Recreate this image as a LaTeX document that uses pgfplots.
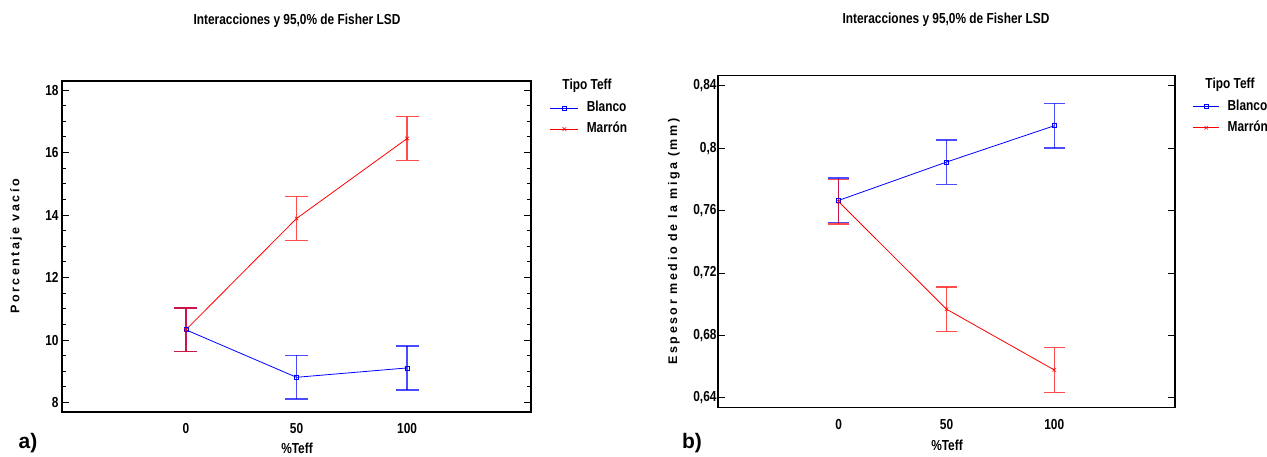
\documentclass[border=0pt]{standalone}
\usepackage{pgfplots}
\pgfplotsset{compat=1.18}
\usepackage{fontspec}
\setmainfont{Liberation Sans}
\newfontfamily\cond{Liberation Sans}[FakeStretch=0.82]
\newfontfamily\spaced{Liberation Sans}[LetterSpace=20]
\newcommand\cf{\cond\bfseries\fontsize{14.5bp}{17bp}\selectfont}
\newcommand\lf{\spaced\bfseries\fontsize{12.5bp}{14bp}\selectfont}
\definecolor{myblue}{RGB}{0,0,255}
\definecolor{myred}{RGB}{255,0,0}

\pgfplotstableread{
x y e
0 10.33 0.70
50 8.81 0.70
100 9.11 0.70
}\leftB
\pgfplotstableread{
x y e
0 10.33 0.70
50 13.89 0.70
100 16.45 0.70
}\leftM
\pgfplotstableread{
x y e
0 0.7666 0.0143
50 0.7912 0.0143
100 0.8145 0.0143
}\rightB
\pgfplotstableread{
x y e
0 0.7657 0.0143
50 0.6968 0.0143
100 0.6578 0.0143
}\rightM

\pgfplotsset{
  mystyle/.style={
    scale only axis,
    axis line style={line width=1.5bp, black},
    tick align=inside,
    xtick={0,50,100},
    xmin=-56, xmax=156,
    x tick style={draw=none},
    ytick pos=both,
    major tick length=7bp,
    minor tick length=4bp,
    y tick style={line width=1bp, black},
    tick label style={font=\cf},
    /pgf/number format/assume math mode=true,
    xticklabel style={yshift=-8bp},
    legend style={draw=none, fill=none, inner sep=0pt, outer sep=0pt,
      row sep=6bp, column sep=7bp, font=\cf, legend cell align=left,
      nodes={inner sep=1bp, text height=10bp, text depth=3bp}},
    legend image code/.code={\draw[mark repeat=2,mark phase=2,#1] plot coordinates {(0bp,0bp) (14bp,0bp) (28bp,0bp)};},
  },
  blanco/.style={color=myblue, line width=0.8bp, mark=square, mark size=2bp, mark options={solid, line width=0.6bp, myblue}},
  marron/.style={color=myred, line width=0.8bp, mark=x, mark size=2.5bp, mark options={solid, line width=0.6bp, myred}},
}

\begin{document}
\begin{tikzpicture}
\useasboundingbox (0bp,0bp) rectangle (1267bp,457bp);

% ---------- left ----------
\begin{axis}[mystyle,
  at={(62bp,45bp)}, anchor=south west,
  width=469bp, height=331bp,
  ymin=7.70, ymax=18.29,
  ytick={8,10,12,14,16,18},
  minor y tick num=3,
  legend style={at={(axis description cs:1.0405,0.941)}, anchor=north west},
]
\addplot[blanco, error bars/.cd, y dir=both, y explicit, error mark=|,
  error bar style={line width=1.4bp, myblue, opacity=0.7},
  error mark options={mark size=11.5bp, line width=1.5bp, myblue, opacity=0.7}]
  table[x=x, y=y, y error=e] {\leftB};
\addlegendentry{Blanco}
\addplot[marron, error bars/.cd, y dir=both, y explicit, error mark=|,
  error bar style={line width=1.4bp, myred, opacity=0.7},
  error mark options={mark size=11.5bp, line width=1.5bp, myred, opacity=0.7}]
  table[x=x, y=y, y error=e] {\leftM};
\addlegendentry{Marrón}
\end{axis}

% ---------- right ----------
\begin{axis}[mystyle,
  at={(718bp,49.3bp)}, anchor=south west,
  width=457bp, height=332bp,
  ymin=0.6336, ymax=0.8466,
  ytick={0.64,0.68,0.72,0.76,0.8,0.84},
  yticklabels={{0,64},{0,68},{0,72},{0,76},{0,8},{0,84}},
  yticklabel style={xshift=2bp},
  legend style={at={(axis description cs:1.039,0.929)}, anchor=north west},
  legend image code/.code={\draw[mark repeat=2,mark phase=2,#1] plot coordinates {(0bp,0bp) (13bp,0bp) (26bp,0bp)};},
]
\addplot[blanco, error bars/.cd, y dir=both, y explicit, error mark=|,
  error bar style={line width=1.4bp, myblue, opacity=0.7},
  error mark options={mark size=10.5bp, line width=1.5bp, myblue, opacity=0.7}]
  table[x=x, y=y, y error=e] {\rightB};
\addlegendentry{Blanco}
\addplot[marron, error bars/.cd, y dir=both, y explicit, error mark=|,
  error bar style={line width=1.4bp, myred, opacity=0.7},
  error mark options={mark size=10.5bp, line width=1.5bp, myred, opacity=0.7}]
  table[x=x, y=y, y error=e] {\rightM};
\addlegendentry{Marrón}
\end{axis}

% ---------- texts ----------
\node[font=\cf] at (297bp,436bp) {Interacciones y 95,0\% de Fisher LSD};
\node[font=\cf] at (946bp,437bp) {Interacciones y 95,0\% de Fisher LSD};
\node[font=\cf] at (587bp,371bp) {Tipo Teff};
\node[font=\cf] at (1230bp,372bp) {Tipo Teff};
\node[font=\cf] at (297bp,9bp) {\%Teff};
\node[font=\cf] at (947bp,12bp) {\%Teff};
\node[rotate=90, font=\lf] at (16bp,210.5bp) {Porcentaje vacío};
\node[rotate=90, font=\lf] at (674bp,215.5bp) {Espesor medio de la miga (mm)};
\node[font=\bfseries\fontsize{21bp}{24bp}\selectfont] at (28bp,14bp) {a)};
\node[font=\bfseries\fontsize{21bp}{24bp}\selectfont] at (692bp,14bp) {b)};
\end{tikzpicture}
\end{document}
